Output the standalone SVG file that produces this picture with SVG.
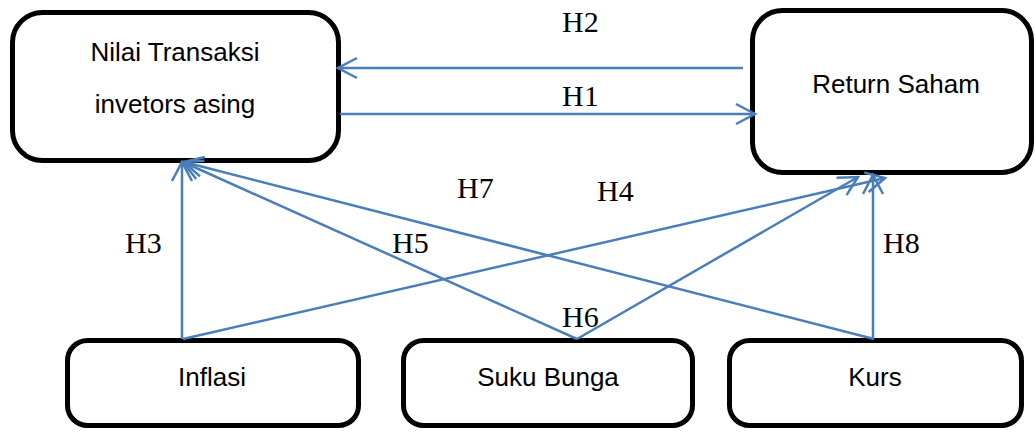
<svg xmlns="http://www.w3.org/2000/svg" width="1035" height="432" viewBox="0 0 1035 432">
<style>
.box{fill:#fff;stroke:#000;stroke-width:5}
.lbl{font-family:"Liberation Sans",Arial,sans-serif;font-size:26px;fill:#000;text-anchor:middle}
.h{font-family:"Liberation Serif","Times New Roman",serif;font-size:30px;fill:#000}
.c{fill:none;stroke:#4A7EBB;stroke-width:2.5}
</style>
<defs>
<marker id="arr" markerUnits="userSpaceOnUse" markerWidth="24" markerHeight="24" viewBox="0 0 24 24" refX="21" refY="12" orient="auto" overflow="visible">
<path d="M2,2 L21,12 L2,22" fill="none" stroke="#4A7EBB" stroke-width="2.5"/>
</marker>
</defs>
<g id="node-nilai">
<rect class="box" x="12.5" y="12.5" width="326" height="148" rx="30"/>
<text class="lbl" x="175" y="61">Nilai Transaksi</text>
<text class="lbl" x="175" y="113">invetors asing</text>
</g>
<g id="node-return">
<rect class="box" x="752.5" y="10.5" width="279" height="162" rx="30"/>
<text class="lbl" x="896" y="93">Return Saham</text>
</g>
<g id="node-inflasi">
<rect class="box" x="67.5" y="340.5" width="291" height="85" rx="20"/>
<text class="lbl" x="212" y="386">Inflasi</text>
</g>
<g id="node-suku">
<rect class="box" x="403.5" y="340.5" width="289" height="85" rx="20"/>
<text class="lbl" x="548" y="386">Suku Bunga</text>
</g>
<g id="node-kurs">
<rect class="box" x="729.5" y="340.5" width="292" height="85" rx="20"/>
<text class="lbl" x="875" y="386">Kurs</text>
</g>
<g id="connectors">
<line class="c" x1="743" y1="68" x2="338" y2="68" marker-end="url(#arr)"/>
<line class="c" x1="340" y1="114" x2="755" y2="114" marker-end="url(#arr)"/>
<line class="c" x1="182" y1="339" x2="182" y2="162" marker-end="url(#arr)"/>
<line class="c" x1="183" y1="339" x2="885" y2="178" marker-end="url(#arr)"/>
<line class="c" x1="577" y1="339" x2="183" y2="162" marker-end="url(#arr)"/>
<line class="c" x1="577" y1="339" x2="858" y2="177" marker-end="url(#arr)"/>
<line class="c" x1="874" y1="339" x2="184" y2="162" marker-end="url(#arr)"/>
<line class="c" x1="873" y1="339" x2="873" y2="175" marker-end="url(#arr)"/>
</g>
<g id="labels">
<text class="h" x="562" y="32">H2</text>
<text class="h" x="562" y="106">H1</text>
<text class="h" x="457" y="198">H7</text>
<text class="h" x="597" y="201">H4</text>
<text class="h" x="125" y="253">H3</text>
<text class="h" x="392" y="253">H5</text>
<text class="h" x="883" y="253">H8</text>
<text class="h" x="562" y="327">H6</text>
</g>
</svg>
